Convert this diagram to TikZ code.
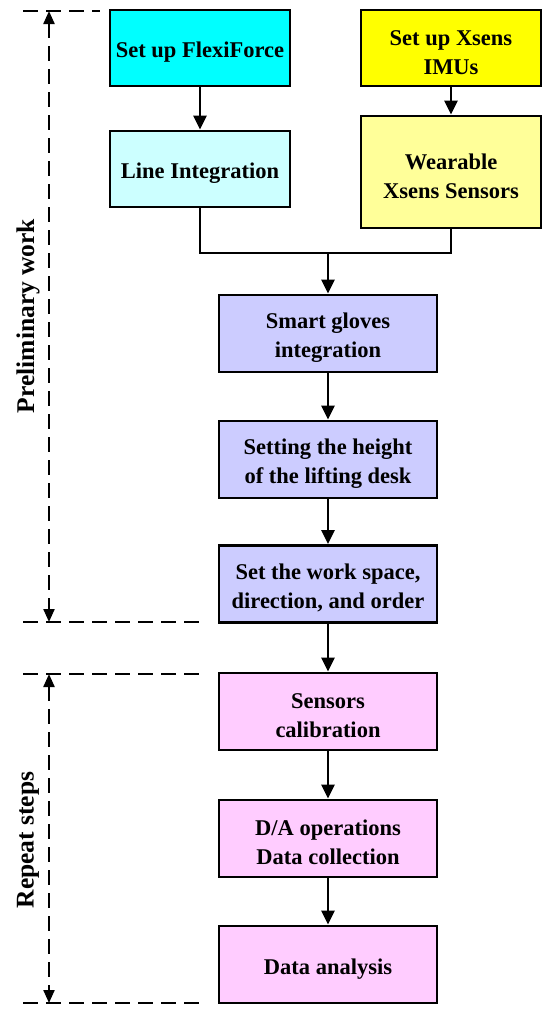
\documentclass[tikz,border=0pt]{standalone}
\usepackage{fontspec}
\setmainfont{Liberation Serif}
\usetikzlibrary{arrows.meta,calc}
\definecolor{cCyan}{RGB}{0,255,255}
\definecolor{cLCyan}{RGB}{204,255,255}
\definecolor{cYel}{RGB}{255,255,0}
\definecolor{cLYel}{RGB}{255,255,153}
\definecolor{cLav}{RGB}{204,204,255}
\definecolor{cPink}{RGB}{255,204,255}
\newcommand\boxstrut{\rule{0pt}{24pt}}
\begin{document}
\begin{tikzpicture}[x=1pt,y=-1pt,
  box/.style={draw=black,line width=2.8pt,rectangle,align=center,inner sep=2pt,
    font=\fontsize{22.5}{29}\selectfont\bfseries},
  topbox/.style={box,minimum width=180pt,minimum height=76pt},
  midbox/.style={box,minimum width=218pt,minimum height=77pt},
  flowarrow/.style={line width=2.5pt,-{Triangle[length=14pt,width=13pt]}},
  mergeline/.style={line width=2.5pt},
  guideline/.style={line width=2.2pt,dash pattern=on 15pt off 8pt},
  spanarrow/.style={guideline,{Triangle[length=13pt,width=11pt]}-{Triangle[length=13pt,width=11pt]}},
  sidelabel/.style={rotate=90,font=\fontsize{25.5}{28}\selectfont\bfseries}]
\useasboundingbox (0,0) rectangle (550,1013);

% boxes
\node[topbox,fill=cCyan]  (ff) at (200,48)  {\boxstrut Set up FlexiForce};
\node[topbox,fill=cLCyan] (li) at (200,169) {\boxstrut Line Integration};
\node[topbox,fill=cYel]   (xs) at (451,48)  {\boxstrut Set up Xsens\\IMUs};
\node[topbox,fill=cLYel,minimum height=112pt] (ws) at (451,172) {\boxstrut Wearable\\Xsens Sensors};
\node[midbox,fill=cLav]  (sg) at (328,333.5) {\boxstrut Smart gloves\\integration};
\node[midbox,fill=cLav]  (sh) at (328,459.5) {\boxstrut Setting the height\\of the lifting desk};
\node[midbox,fill=cLav]  (wk) at (328,584)   {\boxstrut Set the work space,\\direction, and order};
\node[midbox,fill=cPink] (sc) at (328,711.5) {\boxstrut Sensors\\calibration};
\node[midbox,fill=cPink] (da) at (328,838.5) {\boxstrut D/A operations\\Data collection};
\node[midbox,fill=cPink] (an) at (328,964.5) {\boxstrut Data analysis};

% connectors
\draw[flowarrow] (ff) -- (li);
\draw[flowarrow] (xs) -- (ws);
\coordinate (m) at (sg.north |- 0,253);
\draw[mergeline] (li.south) |- (m) -| (ws.south);
\draw[flowarrow] (m) -- (sg.north);
\draw[flowarrow] (sg) -- (sh);
\draw[flowarrow] (sh) -- (wk);
\draw[flowarrow] (wk) -- (sc);
\draw[flowarrow] (sc) -- (da);
\draw[flowarrow] (da) -- (an);

% side guides
\coordinate (g1a) at (23,11);   \coordinate (g1b) at (100,11);
\coordinate (g2a) at (23,622);  \coordinate (g2b) at (205,622);
\coordinate (g3a) at (23,674);  \coordinate (g3b) at (205,674);
\coordinate (g4a) at (23,1003); \coordinate (g4b) at (205,1003);
\draw[guideline] (g1a) -- (g1b);
\draw[guideline] (g2a) -- (g2b);
\draw[guideline] (g3a) -- (g3b);
\draw[guideline] (g4a) -- (g4b);
\coordinate (v1a) at (49,11);  \coordinate (v1b) at (49,622);
\coordinate (v2a) at (49,674); \coordinate (v2b) at (49,1003);
\draw[spanarrow] (v1a) -- (v1b);
\draw[spanarrow] (v2a) -- (v2b);
\node[sidelabel] (pw) at (28,316) {Preliminary work};
\node[sidelabel] (rs) at (28,840) {Repeat steps};
\end{tikzpicture}
\end{document}
